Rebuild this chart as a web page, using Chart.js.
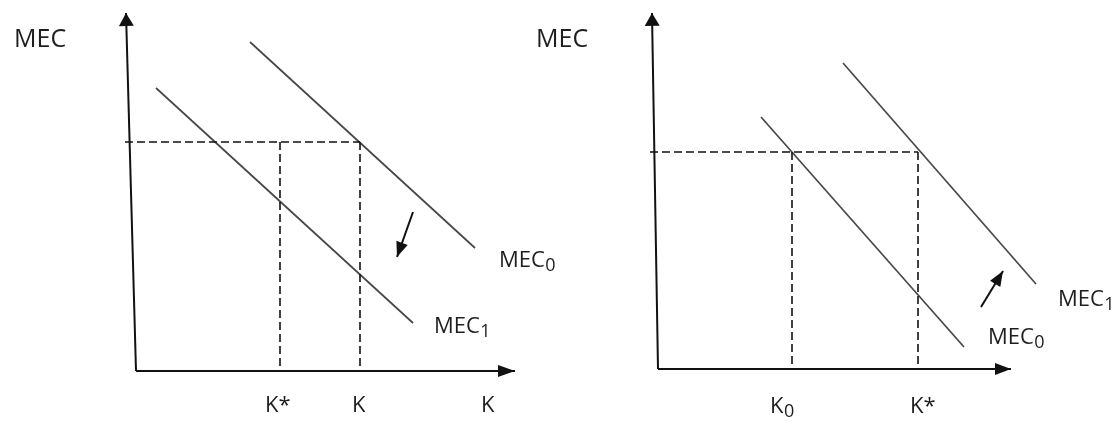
<!DOCTYPE html>
<html><head><meta charset="utf-8">
<script src="https://cdn.jsdelivr.net/npm/chart.js@4/dist/chart.umd.min.js"></script>
<style>
html,body{margin:0;padding:0;background:#fff;width:1114px;height:432px;overflow:hidden;}
.panel{position:absolute;top:0;height:432px;}
#p1{left:0;width:570px;}
#p2{left:520px;width:594px;}
</style></head><body>
<div class="panel" id="p1"><canvas id="c1"></canvas></div>
<div class="panel" id="p2"><canvas id="c2"></canvas></div>
<script>
// ---------- Left panel: MEC shifts down (MEC0 -> MEC1) ----------
const leftYAxis  = [{x:0,y:0},{x:-0.25,y:8.95}];
const leftXAxis  = [{x:0,y:0},{x:9.475,y:0}];
const leftMEC0   = [{x:2.85,y:8.225},{x:8.475,y:3.075}];
const leftMEC1   = [{x:0.5,y:7.075},{x:6.925,y:1.2}];
const leftRate   = 5.725;          // interest-rate level (dashed)
const leftRateStart = -0.275;
const leftKStar  = 3.6;
const leftK      = 5.6;
const leftShift  = [{x:6.925,y:3.975},{x:6.525,y:2.85}];

// ---------- Right panel: MEC shifts up (MEC0 -> MEC1) ----------
const rightYAxis = [{x:0,y:0},{x:-0.15,y:8.9}];
const rightXAxis = [{x:0,y:0},{x:8.825,y:0}];
const rightMEC1  = [{x:4.625,y:7.65},{x:9.45,y:2.125}];
const rightMEC0  = [{x:2.575,y:6.3},{x:7.65,y:0.55}];
const rightRate  = 5.425;
const rightRateStart = -0.2;
const rightK0    = 3.35;
const rightKStar = 6.5;
const rightShift = [{x:8.075,y:1.55},{x:8.625,y:2.45}];

// ---------- Text labels ----------
const leftLabels = [
  {text:"MEC", sub:"",  x:-3.05, y:8.1,   size:25},
  {text:"MEC", sub:"0", x:9.075, y:2.6,   size:22},
  {text:"MEC", sub:"1", x:7.45,  y:0.95,  size:22},
  {text:"K*",  sub:"",  x:3.225, y:-1.025,size:22},
  {text:"K",   sub:"",  x:5.4,   y:-1.025,size:22},
  {text:"K",   sub:"",  x:8.625, y:-1.025,size:22}
];
const rightLabels = [
  {text:"MEC", sub:"",  x:-3.05, y:8.05,  size:25},
  {text:"MEC", sub:"1", x:10.0,  y:1.575, size:22},
  {text:"MEC", sub:"0", x:8.25,  y:0.625, size:22},
  {text:"K",   sub:"0", x:2.8,   y:-1.1,  size:22},
  {text:"K*",  sub:"",  x:6.3,   y:-1.1,  size:22}
];

const FONT = '"Open Sans", "Liberation Sans", sans-serif';
const CURVE = '#474747', INK = '#111';

function lineDS(data, opts){
  return Object.assign({data:data, showLine:true, pointRadius:0, pointHoverRadius:0,
    borderColor:CURVE, borderWidth:1.7, fill:false, tension:0}, opts||{});
}
function dashDS(data){
  return lineDS(data,{borderColor:INK, borderWidth:1.6, borderDash:[8,4]});
}

const arrowPlugin = {
  id:'arrowheads',
  afterDatasetsDraw(chart){
    const ctx = chart.ctx;
    chart.data.datasets.forEach((ds,i)=>{
      if(!ds.arrowHead) return;
      const pts = chart.getDatasetMeta(i).data;
      const a = pts[pts.length-2], b = pts[pts.length-1];
      const ang = Math.atan2(b.y-a.y, b.x-a.x);
      const L = ds.arrowHead.len, W = ds.arrowHead.width/2;
      const bx = b.x - L*Math.cos(ang), by = b.y - L*Math.sin(ang);
      const px = -Math.sin(ang), py = Math.cos(ang);
      ctx.save();
      ctx.fillStyle = INK;
      ctx.beginPath();
      ctx.moveTo(b.x,b.y);
      ctx.lineTo(bx+W*px, by+W*py);
      ctx.lineTo(bx-W*px, by-W*py);
      ctx.closePath();
      ctx.fill();
      ctx.restore();
    });
  }
};

const labelPlugin = {
  id:'textlabels',
  afterDraw(chart){
    const labels = chart.options.plugins.textlabels.items;
    const ctx = chart.ctx, xs = chart.scales.x, ys = chart.scales.y;
    ctx.save();
    ctx.fillStyle = '#1e1e1e';
    ctx.textAlign = 'left';
    ctx.textBaseline = 'alphabetic';
    labels.forEach(l=>{
      const px = xs.getPixelForValue(l.x), py = ys.getPixelForValue(l.y);
      ctx.font = l.size + 'px ' + FONT;
      ctx.fillText(l.text, px, py);
      if(l.sub){
        const w = ctx.measureText(l.text).width;
        ctx.font = Math.round(l.size*0.8) + 'px ' + FONT;
        ctx.fillText(l.sub, px + w + 0.5, py + 4);
      }
    });
    ctx.restore();
  }
};

function makeChart(id, datasets, labels, xr, yr){
  return new Chart(document.getElementById(id), {
    type:'scatter',
    data:{datasets:datasets},
    options:{
      responsive:true, maintainAspectRatio:false, animation:false,
      layout:{padding:0},
      events:[],
      plugins:{legend:{display:false}, tooltip:{enabled:false}, textlabels:{items:labels}},
      scales:{
        x:{type:'linear', min:xr[0], max:xr[1], display:false},
        y:{type:'linear', min:yr[0], max:yr[1], display:false}
      }
    },
    plugins:[arrowPlugin, labelPlugin]
  });
}

makeChart('c1', [
  dashDS([{x:leftRateStart,y:leftRate},{x:leftK,y:leftRate}]),
  dashDS([{x:leftKStar,y:leftRate},{x:leftKStar,y:0}]),
  dashDS([{x:leftK,y:leftRate},{x:leftK,y:0}]),
  lineDS(leftMEC0),
  lineDS(leftMEC1),
  lineDS(leftYAxis,{borderColor:INK, borderWidth:2, arrowHead:{len:13,width:15}}),
  lineDS(leftXAxis,{borderColor:INK, borderWidth:2, arrowHead:{len:17,width:12}}),
  lineDS(leftShift,{borderColor:INK, borderWidth:2, arrowHead:{len:15,width:12}})
], leftLabels, [-3.4, 10.85], [-1.525, 9.275]);

makeChart('c2', [
  dashDS([{x:rightRateStart,y:rightRate},{x:rightKStar,y:rightRate}]),
  dashDS([{x:rightK0,y:rightRate},{x:rightK0,y:0}]),
  dashDS([{x:rightKStar,y:rightRate},{x:rightKStar,y:0}]),
  lineDS(rightMEC1),
  lineDS(rightMEC0),
  lineDS(rightYAxis,{borderColor:INK, borderWidth:2, arrowHead:{len:13,width:15}}),
  lineDS(rightXAxis,{borderColor:INK, borderWidth:2, arrowHead:{len:16,width:12}}),
  lineDS(rightShift,{borderColor:INK, borderWidth:2, arrowHead:{len:15,width:12}})
], rightLabels, [-3.45, 11.4], [-1.575, 9.225]);
</script>
</body></html>
